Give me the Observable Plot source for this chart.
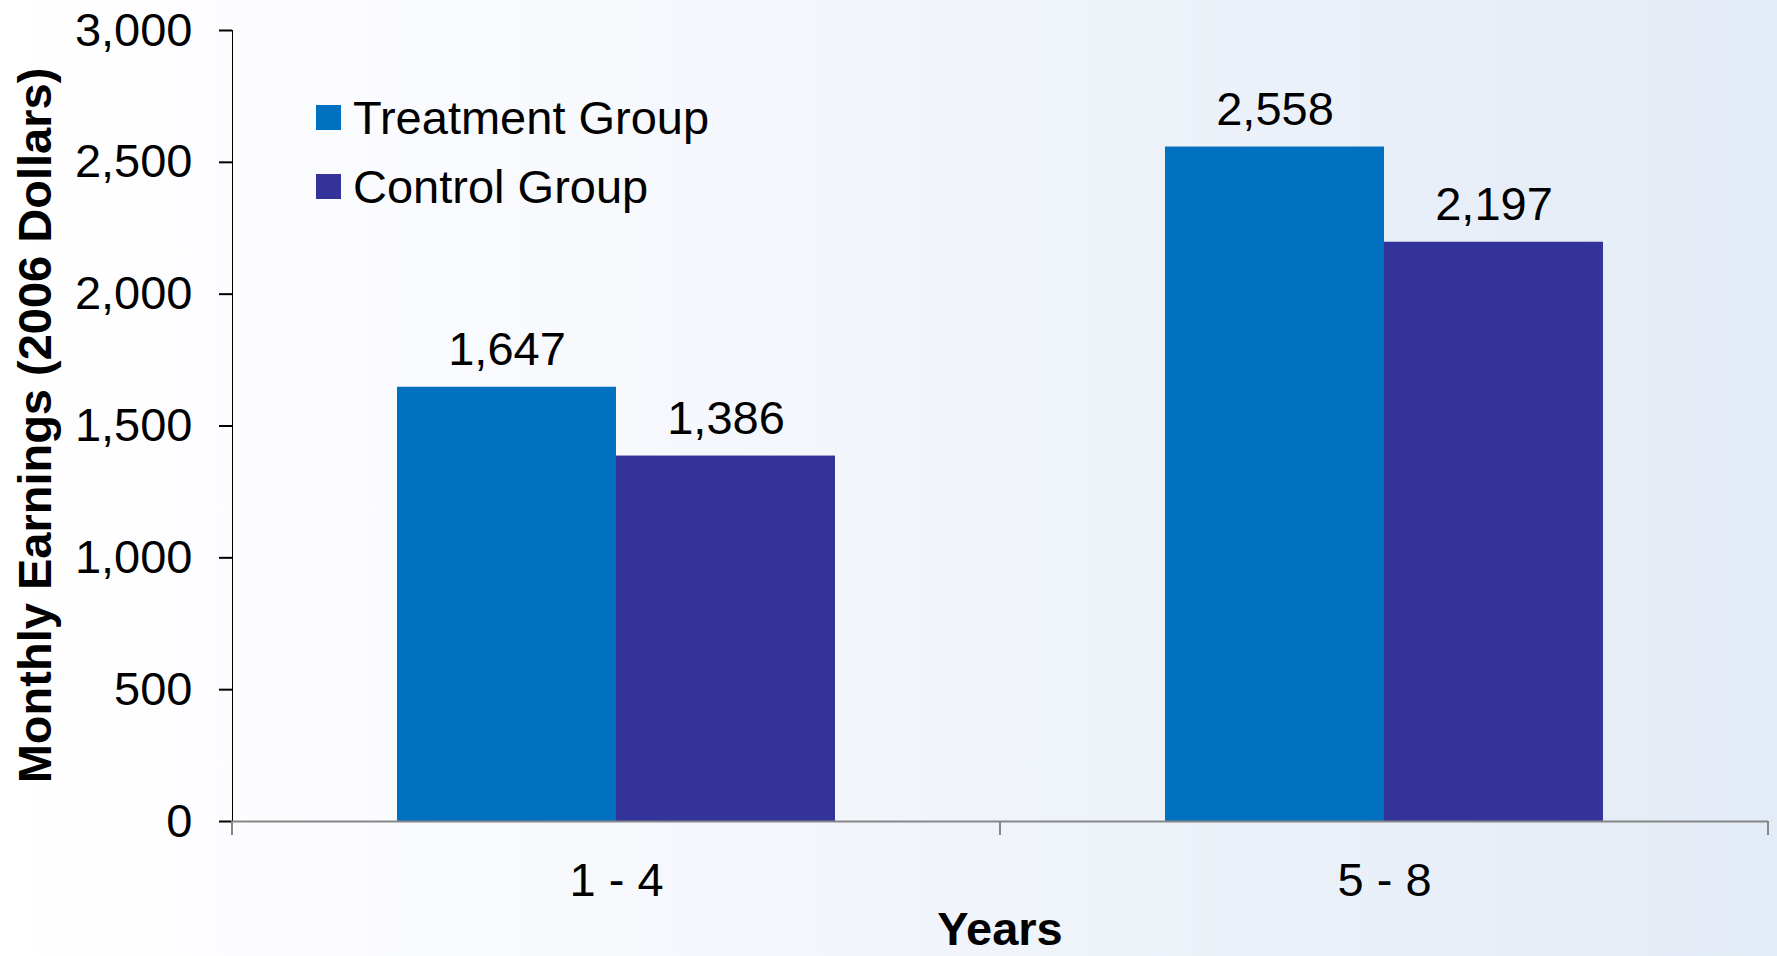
<!DOCTYPE html>
<html>
<head>
<meta charset="utf-8">
<script src="https://cdn.jsdelivr.net/npm/d3@7"></script>
<script src="https://cdn.jsdelivr.net/npm/@observablehq/plot@0.6"></script>
<style>
  html, body { margin: 0; padding: 0; width: 1777px; height: 956px; overflow: hidden; }
  body { background: linear-gradient(90deg, #ffffff 0%, #fdfdff 12%, #e3ebf6 100%); font-family: "Liberation Sans", Arial, sans-serif; }
  #chart svg { display: block; }
</style>
</head>
<body>
<div id="chart"></div>
<script>
const periods = ["1 - 4", "5 - 8"];
const groups = ["Treatment Group", "Control Group"];
const treatment = [1647, 2558];
const control = [1386, 2197];
const yTicks = [0, 500, 1000, 1500, 2000, 2500, 3000];
const colors = ["#0070C0", "#333399"];
const yLabel = "Monthly Earnings (2006 Dollars)";
const xLabel = "Years";

const data = periods.flatMap((p, i) => [
  {period: p, group: groups[0], value: treatment[i]},
  {period: p, group: groups[1], value: control[i]}
]);

const fmt = d3.format(",d");
const axisColor = "#878787";

const chart = Plot.plot({
  width: 1777,
  height: 956,
  marginLeft: 232,
  marginRight: 9,
  marginTop: 30,
  marginBottom: 135,
  style: {background: "transparent", fontFamily: "'Liberation Sans', Arial, sans-serif", fontSize: "47px", color: "#000", overflow: "visible"},
  fx: {domain: periods, paddingInner: 0, paddingOuter: 0, label: null, axis: "bottom", tickSize: 0, tickPadding: 41},
  x: {domain: groups, paddingInner: 0, paddingOuter: 0.753, axis: null},
  y: {domain: [0, 3000], ticks: yTicks, tickFormat: fmt, label: null, tickSize: 13, tickPadding: 27, line: true},
  color: {domain: groups, range: colors},
  marks: [
    Plot.barY(data, {fx: "period", x: "group", y: "value", fill: "group"}),
    Plot.ruleY([0], {stroke: axisColor, strokeWidth: 2}),
    Plot.text(data, {fx: "period", x: "group", y: "value", text: d => fmt(d.value), dy: -22, lineAnchor: "bottom", fill: "#000"})
  ]
});

document.getElementById("chart").appendChild(chart);

const svg = d3.select(chart);
svg.selectAll("[aria-label='y-axis tick'], [aria-label='y-axis line']").attr("stroke", axisColor).attr("stroke-opacity", 1).attr("stroke-width", 2);

const fx = chart.scale("fx");
const y = chart.scale("y");
const y0 = y.apply(0);
const yTop = y.apply(3000);
const edges = [];
periods.forEach(p => { const s = fx.apply(p); edges.push(s, s + fx.bandwidth); });
const uniq = Array.from(new Set(edges.map(e => Math.round(e * 10) / 10)));

const extra = svg.append("g").attr("text-anchor", "start");
// category boundary ticks below the baseline
extra.selectAll("line.cat").data(uniq).join("line")
  .attr("x1", d => d).attr("x2", d => d)
  .attr("y1", y0).attr("y2", y0 + 14)
  .attr("stroke", axisColor).attr("stroke-width", 2);

// axis titles
const xr = fx.range;
extra.append("text")
  .attr("transform", `translate(51,${(y0 + yTop) / 2}) rotate(-90)`)
  .attr("text-anchor", "middle")
  .attr("font-weight", "bold")
  .attr("font-size", 47)
  .text(yLabel);
extra.append("text")
  .attr("x", (xr[0] + xr[1]) / 2)
  .attr("y", 945)
  .attr("text-anchor", "middle")
  .attr("font-weight", "bold")
  .attr("font-size", 47)
  .text(xLabel);

// legend
const color = chart.scale("color");
const leg = extra.append("g").attr("transform", "translate(316,105)");
groups.forEach((g, i) => {
  const row = leg.append("g").attr("transform", `translate(0,${i * 69})`);
  row.append("rect").attr("width", 25).attr("height", 25).attr("fill", color.apply(g));
  row.append("text").attr("x", 37).attr("y", 29).attr("text-anchor", "start").attr("font-size", 47).text(g);
});
</script>
</body>
</html>
